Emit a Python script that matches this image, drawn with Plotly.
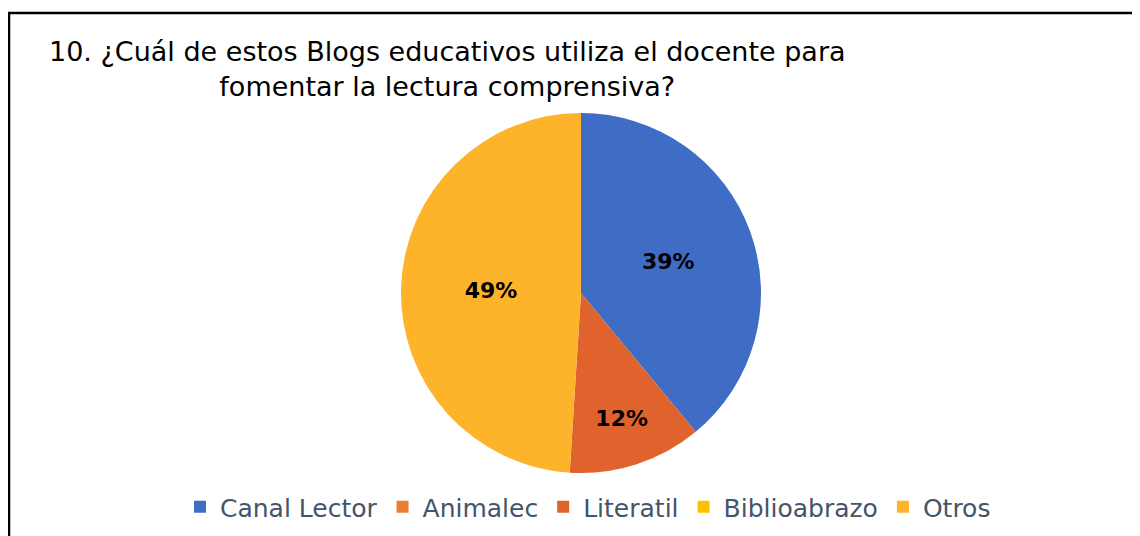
import plotly.graph_objects as go

categories = ["Canal Lector", "Animalec", "Literatil", "Biblioabrazo", "Otros"]
values = [39, 0, 12, 0, 49]
colors = ["#3F6DC6", "#ED7D31", "#E0632E", "#FFC000", "#FDB42A"]
title_text = "10. ¿Cuál de estos Blogs educativos utiliza el docente para<br>fomentar la lectura comprensiva?"

# The page body adds an 8px margin, so the figure is sized to fill the rest.
OFF = 8
W, H = 1140 - OFF, 536 - OFF


def px_x(x):
    return (x - OFF) / W


def px_y(y):
    return 1 - (y - OFF) / H


fig = go.Figure()
fig.add_trace(go.Pie(
    labels=categories,
    values=values,
    sort=False,
    direction="clockwise",
    rotation=0,
    marker=dict(colors=colors, line=dict(width=0)),
    texttemplate="%{percent:.0%}",
    textposition="inside",
    insidetextorientation="horizontal",
    textfont=dict(family="DejaVu Sans", size=22, color="#000000", weight="bold"),
    domain=dict(x=[px_x(351), px_x(811)], y=[px_y(473), px_y(113)]),
    hoverinfo="label+percent",
))

fig.update_layout(
    width=W, height=H,
    margin=dict(l=0, r=0, t=0, b=0),
    paper_bgcolor="#FFFFFF",
    plot_bgcolor="#FFFFFF",
    showlegend=True,
    legend=dict(
        orientation="h",
        x=px_x(588), xanchor="center",
        y=px_y(507), yanchor="middle",
        font=dict(family="DejaVu Sans", size=25, color="#44546A"),
        traceorder="normal",
    ),
    annotations=[dict(
        text=title_text,
        x=px_x(447), xref="paper", xanchor="center",
        y=px_y(69), yref="paper", yanchor="middle",
        showarrow=False,
        align="center",
        font=dict(family="DejaVu Sans", size=27, color="#000000"),
    )],
    shapes=[
        dict(type="line", xref="paper", yref="paper",
             x0=px_x(8), x1=1.0, y0=px_y(13), y1=px_y(13),
             line=dict(color="#000000", width=2.5)),
        dict(type="line", xref="paper", yref="paper",
             x0=px_x(9), x1=px_x(9), y0=px_y(12), y1=0,
             line=dict(color="#000000", width=2.5)),
    ],
)

fig.write_html("out.html")
